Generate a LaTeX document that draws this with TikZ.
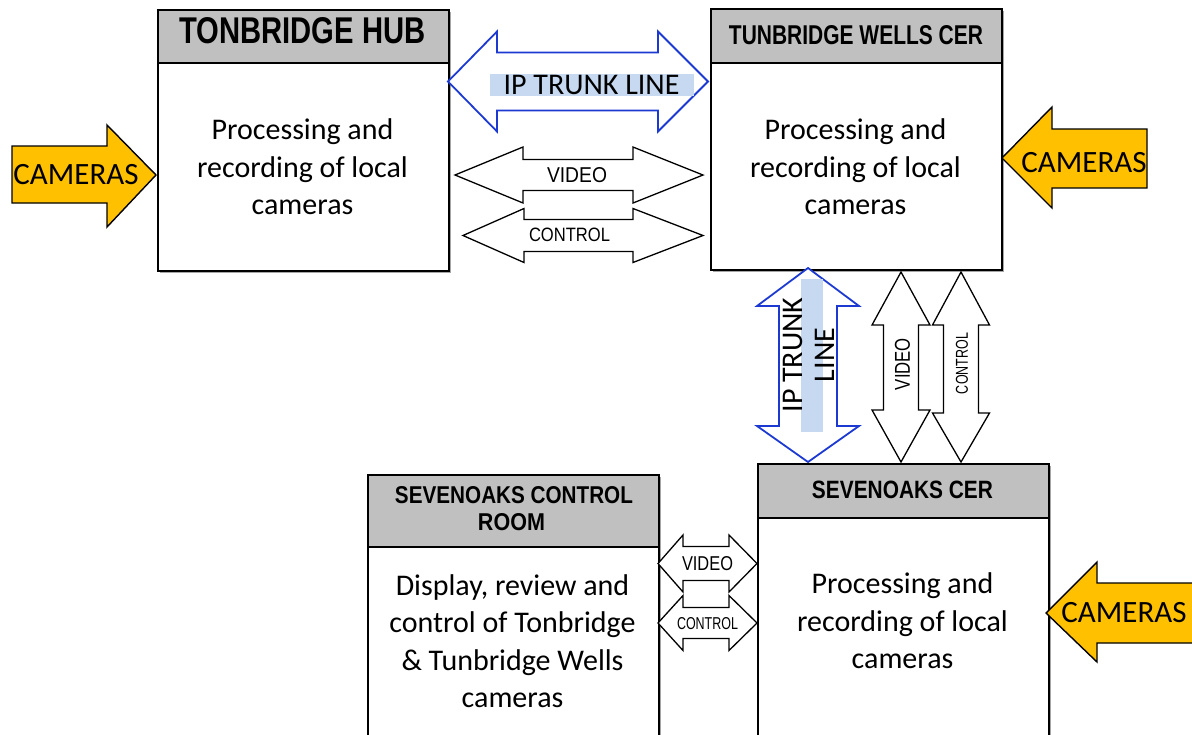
\documentclass[tikz,border=0pt]{standalone}
\usepackage{fontspec}
\setmainfont{Carlito}
\newfontfamily\arialf{Liberation Sans}
\usepackage{graphicx}
\usetikzlibrary{shadows}
\definecolor{hdrgray}{RGB}{192,192,192}
\definecolor{camfill}{RGB}{255,192,0}
\definecolor{ipblue}{RGB}{28,58,210}
\definecolor{hilite}{RGB}{198,217,240}
\newcommand\fitbox[3]{\resizebox{#1pt}{#2pt}{#3}}
\newcommand\hdarrow[8]{%
 \draw[#1] (#2,#4) -- ({#2+#7},{#4-#5}) -- ({#2+#7},{#4-#6}) -- ({#3-#8},{#4-#6}) -- ({#3-#8},{#4-#5}) -- (#3,#4)
  -- ({#3-#8},{#4+#5}) -- ({#3-#8},{#4+#6}) -- ({#2+#7},{#4+#6}) -- ({#2+#7},{#4+#5}) -- cycle;}
\newcommand\vdarrow[8]{%
 \draw[#1] (#2,#3) -- ({#2+#5},{#3+#7}) -- ({#2+#6},{#3+#7}) -- ({#2+#6},{#4-#8}) -- ({#2+#5},{#4-#8}) -- (#2,#4)
  -- ({#2-#5},{#4-#8}) -- ({#2-#6},{#4-#8}) -- ({#2-#6},{#3+#7}) -- ({#2-#5},{#3+#7}) -- cycle;}
\tikzset{
 boxst/.style={draw=black, line width=1.8pt, fill=white, anchor=north west, inner sep=0pt,
   drop shadow={shadow xshift=2pt, shadow yshift=-2pt, fill=gray!70, opacity=1}},
 hdrst/.style={draw=black, line width=1.8pt, fill=hdrgray, anchor=north west, inner sep=0pt},
 txt/.style={inner sep=0pt, align=center},
 bodytxt/.style={inner sep=0pt, align=center, font=\fontsize{30}{37.5}\selectfont},
 blkarrow/.style={draw=black, line width=1.3pt, fill=white, line join=miter},
 iparrow/.style={draw=ipblue, line width=1.8pt, fill=white, line join=miter},
 camarrow/.style={draw=black, line width=1.4pt, fill=camfill, line join=miter},
}
\begin{document}
\begin{tikzpicture}[x=1pt,y=-1pt]
\useasboundingbox (0,0) rectangle (1192,734);
\clip (0,0) rectangle (1192,734);

% boxes
\node[boxst, minimum width=291pt, minimum height=261pt] (hub) at (157,9) {};
\node[hdrst, minimum width=291pt, minimum height=53pt] (hubh) at (157,9) {};
\node[boxst, minimum width=291pt, minimum height=261pt] (tw) at (710,8) {};
\node[hdrst, minimum width=291pt, minimum height=54pt] (twh) at (710,8) {};
\node[boxst, minimum width=291pt, minimum height=300pt] (sev) at (757,463) {};
\node[hdrst, minimum width=291pt, minimum height=54pt] (sevh) at (757,463) {};
\node[boxst, minimum width=291pt, minimum height=300pt] (ctl) at (367,474) {};
\node[hdrst, minimum width=291pt, minimum height=72pt] (ctlh) at (367,474) {};

% titles
\node[txt] (hubt) at (302.5,31) {\fitbox{246}{26}{\arialf\bfseries TONBRIDGE HUB}};
\node[txt] (twt) at (856,35.5) {\fitbox{254}{19}{\arialf\bfseries TUNBRIDGE WELLS CER}};
\node[txt] (sevt) at (902.5,490) {\fitbox{181}{17.5}{\arialf\bfseries SEVENOAKS CER}};
\node[txt] (ctlt1) at (514,495) {\fitbox{238}{17}{\arialf\bfseries SEVENOAKS CONTROL}};
\node[txt] (ctlt2) at (511.5,522.5) {\fitbox{67}{17}{\arialf\bfseries ROOM}};

% body texts
\node[bodytxt] (hubb) at (302.5,167) {Processing and\\recording of local\\cameras};
\node[bodytxt] (twb) at (855.5,167) {Processing and\\recording of local\\cameras};
\node[bodytxt] (sevb) at (902.5,621) {Processing and\\recording of local\\cameras};
\node[bodytxt] (ctlb) at (512.5,641) {Display, review and\\control of Tonbridge\\\& Tunbridge Wells\\cameras};

% horizontal IP trunk
\hdarrow{iparrow}{448}{708}{81.5}{50}{29}{49}{50}
\fill[hilite] (490,74) rectangle (694,96);
\node[txt, font=\fontsize{30}{36}\selectfont] (ipt1) at (591.5,85) {IP TRUNK LINE};

% video / control top
\hdarrow{blkarrow}{455}{703}{175}{28}{15.5}{68}{70}
\node[txt] (vid1) at (577,175) {\fitbox{60}{15}{\arialf VIDEO}};
\hdarrow{blkarrow}{463}{703}{235.5}{27}{16}{61}{70}
\node[txt] (con1) at (569.5,235) {\fitbox{81}{13.5}{\arialf CONTROL}};

% vertical IP trunk
\vdarrow{iparrow}{808}{268}{462}{51}{29}{38}{36}
\fill[hilite] (801,279) rectangle (823,432);
\node[txt, rotate=90, font=\fontsize{30}{32}\selectfont] (ipt2) at (809,355) {IP TRUNK\\LINE};

% vertical video / control
\vdarrow{blkarrow}{901}{272}{462}{29}{17.5}{53}{52}
\node[txt, rotate=90] (vid2) at (902.5,364) {\fitbox{52}{15}{\arialf VIDEO}};
\vdarrow{blkarrow}{961}{272}{462}{28.5}{17.5}{53}{49}
\node[txt, rotate=90] (con2) at (962,363.5) {\fitbox{61}{12}{\arialf CONTROL}};

% bottom small arrows
\hdarrow{blkarrow}{658}{757}{563.5}{28.5}{17}{25}{28}
\node[txt] (vid3) at (707.5,564) {\fitbox{51}{14}{\arialf VIDEO}};
\hdarrow{blkarrow}{658}{757}{623}{27.5}{15.5}{25}{28}
\node[txt] (con3) at (707.5,624) {\fitbox{61}{12}{\arialf CONTROL}};

% camera arrows
\draw[camarrow] (12,146) -- (107,146) -- (107,125) -- (156,175) -- (107,227) -- (107,203) -- (12,203) -- cycle;
\node[txt, font=\fontsize{31}{36}\selectfont] (cam1) at (76,175) {CAMERAS};
\draw[camarrow] (1002,158) -- (1052,107) -- (1052,129) -- (1147,129) -- (1147,188) -- (1052,188) -- (1052,208) -- cycle;
\node[txt, font=\fontsize{31}{36}\selectfont] (cam2) at (1084,163) {CAMERAS};
\draw[camarrow] (1046,613) -- (1097,562) -- (1097,583) -- (1200,583) -- (1200,643) -- (1097,643) -- (1097,662) -- cycle;
\node[txt, font=\fontsize{31}{36}\selectfont] (cam3) at (1124,613) {CAMERAS};
\end{tikzpicture}
\end{document}
